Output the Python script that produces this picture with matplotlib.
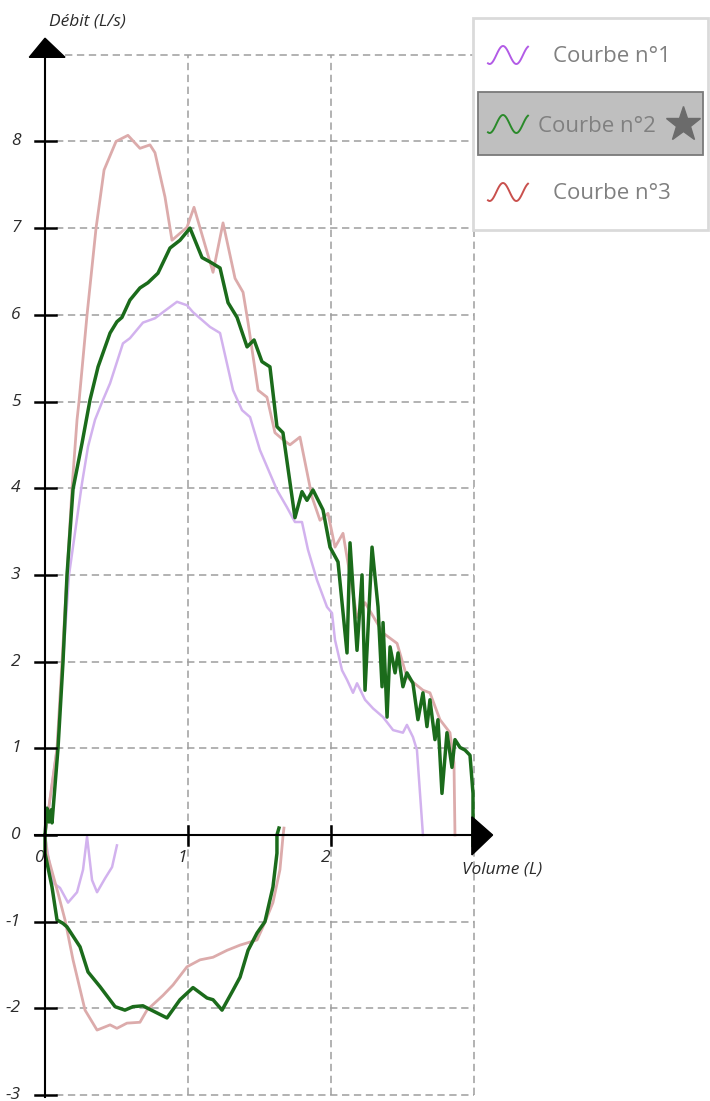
import matplotlib
matplotlib.use("Agg")
import matplotlib.pyplot as plt
import numpy as np
from matplotlib.patches import Rectangle, Polygon

# ---------------- data ----------------
series_names = ["Courbe n°1", "Courbe n°2", "Courbe n°3"]

vol1_exp = [0, 0.084, 0.126, 0.168, 0.259, 0.301, 0.350, 0.406, 0.455, 0.545, 0.594, 0.685, 0.769, 0.825,
            0.923, 0.993, 1.035, 1.154, 1.224, 1.315, 1.378, 1.434, 1.503, 1.622, 1.692, 1.748, 1.797,
            1.839, 1.902, 1.972, 2.007, 2.028, 2.077, 2.112, 2.154, 2.182, 2.238, 2.294, 2.364, 2.434,
            2.503, 2.531, 2.573, 2.601, 2.643]
flow1_exp = [0, 1.0, 2.0, 3.0, 4.06, 4.48, 4.79, 5.02, 5.21, 5.67, 5.73, 5.91, 5.96, 6.03,
             6.15, 6.11, 6.03, 5.86, 5.79, 5.13, 4.90, 4.82, 4.44, 3.98, 3.78, 3.61, 3.61,
             3.29, 2.94, 2.63, 2.56, 2.25, 1.90, 1.79, 1.64, 1.75, 1.56, 1.46, 1.36, 1.21,
             1.18, 1.27, 1.13, 0.98, 0.0]
vol1_insp = [0, 0.021, 0.056, 0.105, 0.161, 0.224, 0.266, 0.294, 0.329, 0.364, 0.420, 0.469, 0.503]
flow1_insp = [0, -0.23, -0.55, -0.61, -0.78, -0.66, -0.40, -0.02, -0.52, -0.66, -0.50, -0.37, -0.12]

vol2_exp = [0, 0.014, 0.028, 0.042, 0.049, 0.091, 0.126, 0.154, 0.196, 0.259, 0.315, 0.371, 0.455,
            0.503, 0.538, 0.594, 0.664, 0.720, 0.790, 0.874, 0.944, 1.014, 1.098, 1.154, 1.224,
            1.280, 1.343, 1.413, 1.462, 1.517, 1.573, 1.622, 1.664, 1.748, 1.797, 1.832, 1.874,
            1.944, 1.993, 2.049, 2.112, 2.133, 2.182, 2.217, 2.238, 2.287, 2.329, 2.357, 2.364,
            2.392, 2.413, 2.448, 2.469, 2.503, 2.531, 2.573, 2.608, 2.643, 2.671, 2.692, 2.727,
            2.748, 2.776, 2.811, 2.846, 2.867, 2.902, 2.937, 2.972, 2.993, 2.993]
flow2_exp = [0, 0.31, 0.15, 0.29, 0.14, 1.0, 2.0, 3.0, 3.99, 4.52, 5.02, 5.40, 5.79,
             5.92, 5.97, 6.17, 6.31, 6.37, 6.48, 6.77, 6.86, 7.00, 6.66, 6.61, 6.54,
             6.14, 5.97, 5.63, 5.71, 5.46, 5.40, 4.71, 4.64, 3.66, 3.96, 3.86, 3.98,
             3.75, 3.32, 3.15, 2.10, 3.37, 2.13, 3.00, 1.67, 3.32, 2.63, 1.71, 2.45,
             1.36, 2.17, 1.87, 2.10, 1.71, 1.87, 1.75, 1.33, 1.64, 1.25, 1.56, 1.10,
             1.33, 0.48, 1.18, 0.78, 1.10, 1.01, 0.98, 0.92, 0.48, -0.12]
vol2_insp = [0, 0.0, 0.049, 0.084, 0.126, 0.154, 0.245, 0.301, 0.385, 0.490, 0.559, 0.615, 0.685,
             0.720, 0.853, 0.944, 1.035, 1.133, 1.175, 1.238, 1.315, 1.364, 1.420, 1.483, 1.538,
             1.594, 1.622, 1.622, 1.636]
flow2_insp = [0, -0.21, -0.60, -0.98, -1.02, -1.06, -1.29, -1.58, -1.75, -1.98, -2.02, -1.98, -1.97,
              -2.00, -2.11, -1.90, -1.76, -1.88, -1.90, -2.02, -1.79, -1.64, -1.33, -1.13, -1.00,
              -0.60, -0.21, 0.0, 0.08]

vol3_exp = [0, 0.084, 0.119, 0.154, 0.189, 0.224, 0.238, 0.294, 0.357, 0.413, 0.497, 0.580, 0.664,
            0.734, 0.769, 0.839, 0.888, 0.993, 1.042, 1.175, 1.245, 1.329, 1.385, 1.420, 1.490,
            1.552, 1.608, 1.664, 1.713, 1.783, 1.867, 1.923, 1.979, 2.028, 2.084, 2.182, 2.238,
            2.364, 2.462, 2.531, 2.643, 2.692, 2.762, 2.832, 2.860, 2.867]
flow3_exp = [0, 1.0, 2.0, 3.0, 4.0, 4.79, 5.0, 6.0, 7.0, 7.67, 8.0, 8.07, 7.92,
             7.96, 7.87, 7.36, 6.86, 7.01, 7.24, 6.49, 7.06, 6.42, 6.26, 5.91, 5.13,
             5.05, 4.64, 4.56, 4.50, 4.59, 3.90, 3.63, 3.71, 3.32, 3.48, 2.51, 2.68,
             2.33, 2.21, 1.82, 1.67, 1.64, 1.33, 1.18, 0.83, 0.0]
vol3_insp = [0, 0.014, 0.091, 0.140, 0.196, 0.280, 0.364, 0.455, 0.503, 0.573, 0.664, 0.713, 0.825,
             0.895, 0.993, 1.084, 1.175, 1.273, 1.364, 1.483, 1.524, 1.552, 1.594, 1.643, 1.664, 1.671]
flow3_insp = [0, -0.21, -0.67, -0.98, -1.44, -2.02, -2.25, -2.19, -2.23, -2.17, -2.16, -2.02, -1.85,
              -1.73, -1.52, -1.44, -1.41, -1.33, -1.27, -1.21, -1.06, -0.95, -0.78, -0.40, -0.02, 0.08]

x_ticks = [1, 2]
x_tick_labels = ["1", "2"]
y_ticks = [8, 7, 6, 5, 4, 3, 2, 1, 0, -1, -2, -3]
y_tick_labels = ["8", "7", "6", "5", "4", "3", "2", "1", "0", "-1", "-2", "-3"]
x_title = "Volume (L)"
y_title = "Débit (L/s)"

# ---------------- styling ----------------
W, H = 710, 1101
PX_X = 143.0   # pixels per litre
PX_Y = 86.7    # pixels per L/s
X0, Y0 = 45, 835

fig = plt.figure(figsize=(W / 100, H / 100), dpi=100)
ax = fig.add_axes([0, 0, 1, 1])
ax.set_xlim(-X0 / PX_X, (W - X0) / PX_X)
ax.set_ylim((Y0 - H) / PX_Y, Y0 / PX_Y)
ax.axis("off")

def fx(px):
    return px / W

def fy(py):
    return 1 - py / H

font = ["Open Sans", "DejaVu Sans"]
grid_col = "#9e9e9e"
dash = (0, (4.8, 3.0))
txt_col = "#2b2b2b"

# grid
for yv in range(-3, 10):
    ax.plot([0.08 if yv != 9 else 0.14, 3.0], [yv, yv], color=grid_col, lw=1.1,
            linestyle=dash, zorder=1)
for xv in [1, 2, 3]:
    ax.plot([xv, xv], [-3, 9], color=grid_col, lw=1.1, linestyle=dash, zorder=1)

# curves
c1 = "#d2b2ee"
c2 = "#1b6b1b"
c3 = "#dcabab"
ax.plot(vol1_exp, flow1_exp, color=c1, lw=1.8, zorder=3, solid_joinstyle="round")
ax.plot(vol1_insp, flow1_insp, color=c1, lw=1.8, zorder=3, solid_joinstyle="round")
ax.plot(vol3_exp, flow3_exp, color=c3, lw=2.0, zorder=4, solid_joinstyle="round")
ax.plot(vol3_insp, flow3_insp, color=c3, lw=2.0, zorder=4, solid_joinstyle="round")
ax.plot(vol2_exp, flow2_exp, color=c2, lw=2.5, zorder=5, solid_joinstyle="round")
ax.plot(vol2_insp, flow2_insp, color=c2, lw=2.5, zorder=5, solid_joinstyle="round")

# axes lines
ax.plot([0, 0], [-3.02, 9.0], color="black", lw=1.5, zorder=6)
ax.plot([-0.07, 2.99], [0, 0], color="black", lw=1.5, zorder=6)
for yv in y_ticks:
    ax.plot([-0.07, 0.08], [yv, yv], color="black", lw=1.8, zorder=6)
for xv in x_ticks:
    ax.plot([xv, xv], [0.1, -0.12], color="black", lw=1.8, zorder=6)
# arrow heads
ax.add_patch(Polygon([[-0.11, 8.97], [0.14, 8.97], [0.0, 9.19]], closed=True,
                     facecolor="black", edgecolor="black", zorder=7))
ax.add_patch(Polygon([[2.985, 0.21], [2.985, -0.23], [3.13, 0.0]], closed=True,
                     facecolor="black", edgecolor="black", zorder=7))

# tick labels
for yv, lab in zip(y_ticks, y_tick_labels):
    ax.text(-0.17, yv, lab, ha="right", va="center", fontsize=12.5, style="italic",
            family=font, color=txt_col)
ax.text(-0.035, -0.27, "0", ha="center", va="center", fontsize=12.5, style="italic",
        family=font, color=txt_col)
for xv, lab in zip(x_ticks, x_tick_labels):
    ax.text(xv - 0.04, -0.27, lab, ha="center", va="center", fontsize=12.5, style="italic",
            family=font, color=txt_col)
fig.text(fx(49), fy(21), y_title, ha="left", va="center", fontsize=12.5, style="italic",
         family=font, color=txt_col)
fig.text(fx(462), fy(869), x_title, ha="left", va="center", fontsize=12.5, style="italic",
         family=font, color=txt_col)

# legend
fig.patches.append(Rectangle((fx(473), fy(230)), (708 - 473) / W, (230 - 18) / H,
                             transform=fig.transFigure, facecolor="white",
                             edgecolor="#dadada", lw=2, zorder=8))
fig.patches.append(Rectangle((fx(478), fy(155)), (703 - 478) / W, (155 - 92) / H,
                             transform=fig.transFigure, facecolor="#bfbfbf",
                             edgecolor="#7a7a7a", lw=1.3, zorder=9))
icon_cols = ["#b25be6", "#2a8a2a", "#c9504d"]
centers = [55, 124, 192]
text_x = [553, 538, 553]
t = np.linspace(0, 1, 60)
for name, col, yc, tx in zip(series_names, icon_cols, centers, text_x):
    xs = 488 + 40 * t
    ys = yc - 9 * np.sin(-0.625 * np.pi + 3 * np.pi * t)
    fig.lines.append(plt.Line2D(fx(xs), fy(ys), transform=fig.transFigure, color=col,
                                lw=1.4, zorder=10))
    fig.text(fx(tx), fy(yc + 2), name, ha="left", va="center", fontsize=16,
             family=font, color="#808080", zorder=10)
fig.lines.append(plt.Line2D([fx(683)], [fy(124)], transform=fig.transFigure, marker="*",
                            markersize=26, color="#6b6b6b", zorder=10))

fig.savefig("out.png", dpi=100)
